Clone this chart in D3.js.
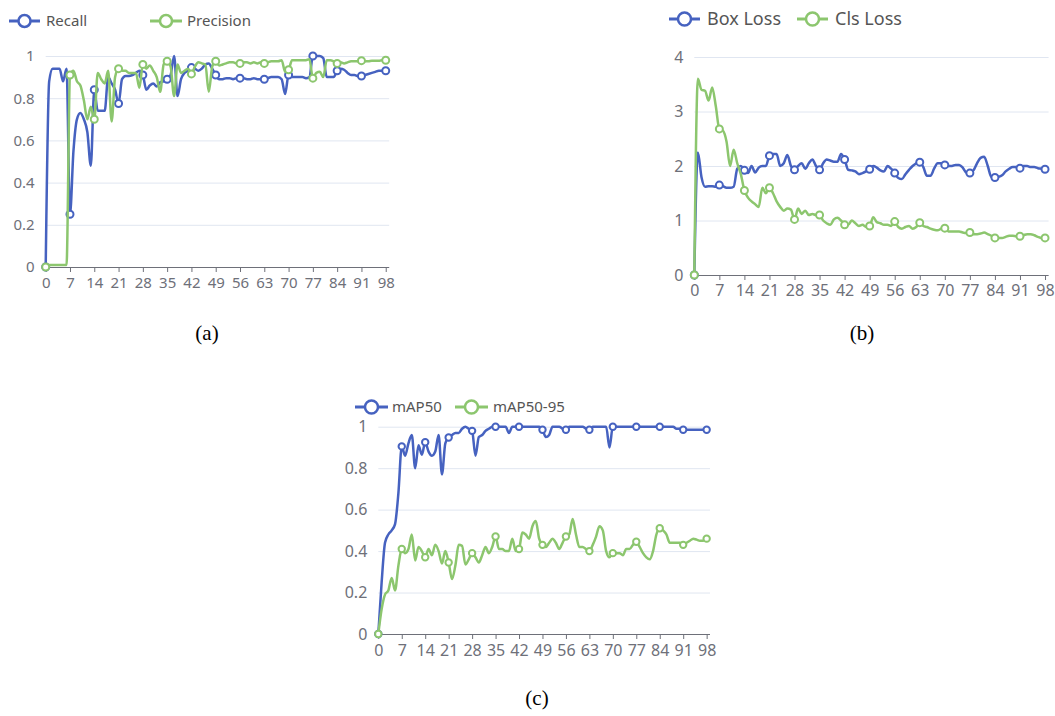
<!DOCTYPE html>
<html lang="en">
<head>
<meta charset="UTF-8">
<title>Training curves</title>
<script src="https://cdn.jsdelivr.net/npm/d3@7"></script>
<style>
    body { margin: 0; background: #fff; }
    svg { display: block; }
    .tick text { fill: #6e7079; font-family: "Noto Sans", sans-serif; }
    .legend text { fill: #555; font-family: "Noto Sans", sans-serif; }
    .caption { font-family: "Liberation Serif", serif; font-size: 21px; fill: #000; }
</style>
</head>
<body>
<svg id="main" width="1055" height="716"></svg>
<script>

    // epochs 0..98, labels every 7
    var epochs = d3.range(99);
    var xTicks = [0, 7, 14, 21, 28, 35, 42, 49, 56, 63, 70, 77, 84, 91, 98];
    var yTicksUnit = [0, 0.2, 0.4, 0.6, 0.8, 1];
    var yTicksLoss = [0, 1, 2, 3, 4];

    var recall = [0, 0.88, 0.94, 0.94, 0.94, 0.88, 0.94, 0.25, 0.55, 0.70,
        0.73, 0.70, 0.64, 0.48, 0.84, 0.74, 0.74, 0.74, 0.90, 0.87,
        0.84, 0.775, 0.89, 0.905, 0.905, 0.91, 0.92, 0.93, 0.91, 0.84,
        0.86, 0.87, 0.855, 0.875, 0.88, 0.89, 0.91, 1.0, 0.81, 0.89,
        0.92, 0.93, 0.945, 0.94, 0.93, 0.94, 0.96, 0.965, 0.94, 0.91,
        0.89, 0.89, 0.895, 0.895, 0.89, 0.895, 0.895, 0.895, 0.89, 0.89,
        0.895, 0.89, 0.89, 0.89, 0.895, 0.90, 0.90, 0.90, 0.89, 0.82,
        0.91, 0.90, 0.90, 0.90, 0.90, 0.895, 0.90, 1.0, 1.0, 1.0,
        0.99, 0.90, 0.90, 0.90, 0.93, 0.94, 0.935, 0.92, 0.91, 0.91,
        0.905, 0.905, 0.91, 0.915, 0.92, 0.925, 0.93, 0.93, 0.93];

    var precision = [0, 0.01, 0.01, 0.01, 0.01, 0.01, 0.01, 0.91, 0.93, 0.88,
        0.86, 0.79, 0.70, 0.76, 0.70, 0.92, 0.89, 0.87, 0.93, 0.69,
        0.90, 0.94, 0.93, 0.93, 0.92, 0.92, 0.92, 0.85, 0.96, 0.94,
        0.955, 0.93, 0.90, 0.83, 0.96, 0.975, 0.95, 0.81, 0.96, 0.92,
        0.93, 0.94, 0.915, 0.95, 0.97, 0.965, 0.96, 0.83, 0.95, 0.975,
        0.955, 0.96, 0.965, 0.97, 0.97, 0.965, 0.965, 0.97, 0.97, 0.965,
        0.97, 0.965, 0.97, 0.965, 0.97, 0.975, 0.975, 0.975, 0.98, 0.925,
        0.935, 0.98, 0.98, 0.98, 0.98, 0.98, 0.985, 0.895, 0.92, 0.925,
        0.90, 0.98, 0.98, 0.975, 0.965, 0.97, 0.965, 0.97, 0.975, 0.975,
        0.975, 0.978, 0.975, 0.975, 0.978, 0.978, 0.978, 0.98, 0.98];

    var boxLoss = [0, 2.25, 1.8, 1.62, 1.63, 1.63, 1.62, 1.65, 1.63, 1.6,
        1.6, 1.62, 1.95, 2.0, 1.92, 1.87, 2.0, 1.88, 1.97, 2.0,
        2.0, 2.19, 2.22, 2.22, 2.0, 2.05, 2.2, 2.0, 1.93, 2.0,
        2.05, 1.95, 2.05, 2.12, 2.0, 1.93, 2.05, 2.12, 2.1, 2.08,
        2.08, 2.22, 2.12, 1.93, 1.92, 1.9, 1.85, 1.87, 1.9, 1.94,
        2.0, 1.97, 1.92, 1.9, 2.0, 1.95, 1.87, 1.78, 1.76, 1.85,
        1.93, 2.0, 2.05, 2.07, 1.98, 1.82, 1.82, 1.95, 2.05, 2.05,
        2.02, 2.0, 2.0, 2.02, 2.02, 1.97, 1.88, 1.87, 1.92, 2.05,
        2.15, 2.17, 2.0, 1.8, 1.79, 1.8, 1.83, 1.9, 1.95, 1.98,
        1.98, 1.96, 2.0, 2.0, 1.98, 1.98, 1.96, 1.95, 1.94];

    var clsLoss = [0, 3.6, 3.4, 3.38, 3.2, 3.44, 3.1, 2.68, 2.65, 2.45,
        2.0, 2.3, 2.05, 1.85, 1.55, 1.42, 1.35, 1.3, 1.25, 1.6,
        1.5, 1.6, 1.5, 1.35, 1.25, 1.18, 1.22, 1.2, 1.02, 1.22,
        1.12, 1.18, 1.1, 1.12, 1.1, 1.1, 1.0, 0.95, 0.92, 1.02,
        1.05, 1.0, 0.92, 0.92, 1.0, 0.95, 0.9, 0.92, 0.88, 0.9,
        1.06, 0.97, 0.95, 0.92, 0.92, 0.9, 0.98, 0.88, 0.85, 0.88,
        0.9, 0.85, 0.88, 0.96, 0.9, 0.88, 0.85, 0.83, 0.82, 0.85,
        0.86, 0.8, 0.8, 0.8, 0.8, 0.78, 0.77, 0.78, 0.75, 0.75,
        0.76, 0.78, 0.75, 0.72, 0.68, 0.68, 0.68, 0.7, 0.72, 0.72,
        0.71, 0.71, 0.73, 0.75, 0.75, 0.73, 0.7, 0.68, 0.68];

    var map50 = [0, 0.25, 0.44, 0.48, 0.50, 0.53, 0.68, 0.905, 0.86, 0.92,
        0.96, 0.80, 0.91, 0.865, 0.925, 0.88, 0.86, 0.88, 0.96, 0.77,
        0.92, 0.948, 0.96, 0.97, 0.97, 0.99, 1.0, 0.99, 0.98, 0.86,
        0.95, 0.96, 0.98, 0.99, 1.0, 1.0, 1.0, 1.0, 1.0, 0.97,
        1.0, 1.0, 1.0, 1.0, 1.0, 1.0, 1.0, 1.0, 1.0, 0.985,
        0.95, 0.96, 1.0, 1.0, 1.0, 0.99, 0.985, 1.0, 1.0, 1.0,
        1.0, 1.0, 0.99, 0.985, 1.0, 1.0, 1.0, 1.0, 1.0, 0.90,
        1.0, 1.0, 1.0, 1.0, 1.0, 1.0, 1.0, 1.0, 1.0, 1.0,
        1.0, 1.0, 1.0, 1.0, 1.0, 1.0, 1.0, 1.0, 1.0, 0.99,
        0.99, 0.985, 0.985, 0.985, 0.985, 0.985, 0.985, 0.985, 0.985];

    var map5095 = [0, 0.12, 0.19, 0.21, 0.27, 0.21, 0.33, 0.41, 0.39, 0.41,
        0.48, 0.355, 0.42, 0.40, 0.37, 0.41, 0.38, 0.43, 0.40, 0.34,
        0.40, 0.345, 0.265, 0.33, 0.43, 0.425, 0.335, 0.36, 0.39, 0.37,
        0.345, 0.38, 0.42, 0.39, 0.42, 0.47, 0.41, 0.41, 0.40, 0.40,
        0.46, 0.40, 0.41, 0.49, 0.48, 0.46, 0.52, 0.545, 0.46, 0.43,
        0.42, 0.44, 0.46, 0.44, 0.41, 0.44, 0.47, 0.48, 0.555, 0.48,
        0.42, 0.42, 0.41, 0.40, 0.43, 0.47, 0.52, 0.50, 0.40, 0.37,
        0.39, 0.39, 0.39, 0.38, 0.41, 0.41, 0.43, 0.445, 0.42, 0.39,
        0.37, 0.36, 0.40, 0.48, 0.51, 0.50, 0.48, 0.44, 0.44, 0.44,
        0.44, 0.43, 0.44, 0.45, 0.46, 0.455, 0.45, 0.45, 0.46];

    var blue = "#4662c0",
        green = "#8cc66e";

    var svg = d3.select("#main");

    function drawPanel(p) {
        var x = d3.scaleLinear().domain([0, 99]).range([p.left, p.right]);
        var y = d3.scaleLinear().domain([0, p.yMax]).range([p.bottom, p.top]);

        // horizontal grid + y labels
        var ya = svg.append("g")
            .attr("transform", "translate(" + p.left + ",0)")
            .call(d3.axisLeft(y).tickValues(p.yTicks)
                .tickSize(-(p.right - p.left)).tickPadding(11)
                .tickFormat(function(d) { return String(+d.toFixed(1)); }));
        ya.select(".domain").remove();
        ya.selectAll(".tick line").attr("stroke", "#e0e6f1");
        ya.selectAll(".tick text").style("font-size", p.font + "px");

        // x axis
        var xa = svg.append("g")
            .attr("transform", "translate(0," + p.bottom + ")")
            .call(d3.axisBottom(x).tickValues(xTicks).tickSizeOuter(0)
                .tickSize(5).tickPadding(p.xPad));
        xa.select(".domain").attr("stroke", "#6e7079").attr("d", "M" + p.left + ",0.5H" + p.right);
        xa.selectAll(".tick line").attr("stroke", "#6e7079");
        xa.selectAll(".tick text").style("font-size", p.font + "px");

        var line = d3.line()
            .x(function(d, i) { return x(epochs[i]); })
            .y(function(d) { return y(d); })
            .curve(d3.curveMonotoneX);

        p.series.forEach(function(s) {
            svg.append("path")
                .datum(s.values)
                .attr("fill", "none")
                .attr("stroke", s.color)
                .attr("stroke-width", p.lw)
                .attr("stroke-linejoin", "round")
                .attr("d", line);

            svg.append("g").selectAll("circle")
                .data(xTicks)
                .enter().append("circle")
                .attr("cx", function(d) { return x(d); })
                .attr("cy", function(d) { return y(s.values[d]); })
                .attr("r", p.r)
                .attr("fill", "#fff")
                .attr("stroke", s.color)
                .attr("stroke-width", 2);
        });

        // legend
        var lg = svg.append("g").attr("class", "legend");
        p.series.forEach(function(s, i) {
            var L = p.legend[i];
            lg.append("line")
                .attr("x1", L[0]).attr("x2", L[1])
                .attr("y1", p.legendY).attr("y2", p.legendY)
                .attr("stroke", s.color).attr("stroke-width", 3);
            lg.append("circle")
                .attr("cx", (L[0] + L[1]) / 2).attr("cy", p.legendY)
                .attr("r", p.legendR)
                .attr("fill", "#fff").attr("stroke", s.color).attr("stroke-width", 2.5);
            lg.append("text")
                .attr("x", L[2]).attr("y", p.legendY)
                .attr("dy", "0.35em")
                .style("font-size", p.legendFont + "px")
                .text(s.name);
        });

        svg.append("text")
            .attr("class", "caption")
            .attr("x", p.capX).attr("y", p.capY)
            .attr("text-anchor", "middle")
            .text(p.caption);
    }

    drawPanel({
        left: 45.7, right: 389.2, top: 56, bottom: 267,
        yMax: 1, yTicks: yTicksUnit, font: 15, xPad: 5, lw: 2.5, r: 3.5,
        legendY: 21, legendR: 6, legendFont: 15,
        legend: [[9, 40, 46], [150, 182, 187]],
        series: [
            {name: "Recall", values: recall, color: blue},
            {name: "Precision", values: precision, color: green}
        ],
        caption: "(a)", capX: 207, capY: 340
    });

    drawPanel({
        left: 694.3, right: 1048.6, top: 57, bottom: 275,
        yMax: 4, yTicks: yTicksLoss, font: 16, xPad: 5, lw: 2.5, r: 3.5,
        legendY: 19, legendR: 6.5, legendFont: 18,
        legend: [[669, 700, 707], [797, 828, 835]],
        series: [
            {name: "Box Loss", values: boxLoss, color: blue},
            {name: "Cls Loss", values: clsLoss, color: green}
        ],
        caption: "(b)", capX: 862, capY: 340
    });

    drawPanel({
        left: 378.3, right: 710, top: 426.7, bottom: 634,
        yMax: 1, yTicks: yTicksUnit, font: 16, xPad: 6, lw: 2.5, r: 3.2,
        legendY: 407, legendR: 6.5, legendFont: 15,
        legend: [[355, 388, 392], [455, 488, 493]],
        series: [
            {name: "mAP50", values: map50, color: blue},
            {name: "mAP50-95", values: map5095, color: green}
        ],
        caption: "(c)", capX: 537, capY: 705
    });

</script>
</body>
</html>
